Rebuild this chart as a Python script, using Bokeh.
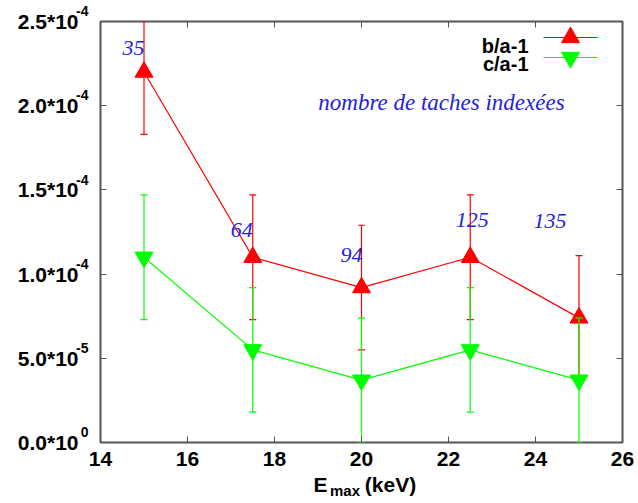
from bokeh.plotting import figure
from bokeh.models import Range1d, LinearAxis, Label, ColumnDataSource, FixedTicker
from bokeh.core.properties import value
from bokeh.embed import file_html
from bokeh.resources import INLINE

# ---- data ----
emax = [15, 17.5, 20, 22.5, 25]
b_a = [2.2e-4, 1.1e-4, 0.92e-4, 1.1e-4, 0.74e-4]
c_a = [1.1e-4, 0.55e-4, 0.37e-4, 0.55e-4, 0.37e-4]
b_err = [0.37e-4, 0.37e-4, 0.37e-4, 0.37e-4, 0.37e-4]
c_err = [0.37e-4, 0.37e-4, 0.37e-4, 0.37e-4, 0.37e-4]
n_spots = [35, 64, 94, 125, 135]
x_ticks = [14, 16, 18, 20, 22, 24, 26]
y_ticks = [0.0, 5e-5, 1e-4, 1.5e-4, 2e-4, 2.5e-4]
y_tick_mant = ["0.0*10", "5.0*10", "1.0*10", "1.5*10", "2.0*10", "2.5*10"]
y_tick_exp = ["0", "-5", "-4", "-4", "-4", "-4"]
series_names = ["b/a-1", "c/a-1"]
x_title = ["E", "max", "(keV)"]

# ---- layout (canvas pixels) ----
W, H = 638, 503
X0, X1, Y0, Y1 = 14.0, 26.0, 0.0, 2.5e-4
FL, FR, FT, FB = 100, 622, 21, 442   # frame edges


def px2x(px):
    return X0 + (px - FL) * (X1 - X0) / (FR - FL)


def py2y(py):
    return Y0 + (FB - py) * (Y1 - Y0) / (FB - FT)


SANS = "Liberation Sans"
SERIF = "Liberation Serif"
RED = "#ff0000"
GREEN = "#00ff00"
BLUE = "#2222dd"
FRAME = "#555555"
NBSP = "\u00a0"

p = figure(width=W, height=H, x_range=Range1d(X0, X1), y_range=Range1d(Y0, Y1),
           output_backend="svg", toolbar_location=None,
           min_border_left=FL, min_border_right=W - FR,
           min_border_top=FT, min_border_bottom=H - FB)
p.grid.visible = False
p.outline_line_color = FRAME
p.outline_line_width = 2
p.background_fill_color = "white"
p.border_fill_color = "white"


def plain(axis, size="0px", standoff=0):
    axis.axis_line_color = None
    axis.minor_tick_line_color = None
    axis.major_tick_out = 0
    axis.major_label_text_font = SANS
    axis.major_label_text_font_style = "bold"
    axis.major_label_text_font_size = size
    axis.major_label_text_color = "black"
    axis.major_label_standoff = standoff


# bottom axis: ticks inside + tick labels
xa = p.xaxis[0]
xa.ticker = x_ticks
plain(xa, "21px", 9)
xa.major_tick_in = 6
xa.major_tick_line_color = FRAME

# left inner axis: ticks inside + superscript exponents (raised by a blank 2nd line)
ya = p.yaxis[0]
ya.ticker = y_ticks
plain(ya, "14px", 12)
ya.major_tick_in = 6
ya.major_tick_line_color = FRAME
ya.major_label_text_line_height = 1.3
ya.major_label_overrides = {t: e + "\n" + NBSP for t, e in zip(y_ticks, y_tick_exp)}

# left outer axis: mantissas
ym = LinearAxis(ticker=y_ticks)
plain(ym, "21px", -5)
ym.major_tick_in = 0
ym.major_tick_line_color = None
ym.major_label_overrides = {t: m for t, m in zip(y_ticks, y_tick_mant)}
p.add_layout(ym, "left")

# mirrored ticks (top / right)
top = LinearAxis(ticker=x_ticks)
plain(top)
top.major_tick_in = 6
top.major_tick_line_color = FRAME
p.add_layout(top, "above")
right = LinearAxis(ticker=y_ticks)
plain(right)
right.major_tick_in = 6
right.major_tick_line_color = FRAME
p.add_layout(right, "right")

# x axis title  E_max (keV): big parts, then the smaller subscript
tx_E, tx_max, tx_kev = px2x(320), px2x(344.5), px2x(390)
xt = LinearAxis(ticker=FixedTicker(ticks=[tx_E, tx_kev]))
plain(xt, "21px", 4)
xt.major_tick_in = 0
xt.major_tick_line_color = None
xt.major_label_overrides = {tx_E: x_title[0], tx_kev: x_title[2]}
p.add_layout(xt, "below")
xs = LinearAxis(ticker=FixedTicker(ticks=[tx_max]))
plain(xs, "15px", -17)
xs.major_tick_in = 0
xs.major_tick_line_color = None
xs.major_label_overrides = {tx_max: x_title[1]}
p.add_layout(xs, "below")


def draw_series(yv, err, color, marker):
    lo = [v - e for v, e in zip(yv, err)]
    hi = [v + e for v, e in zip(yv, err)]
    p.line(emax, yv, line_color=color, line_width=1.2)
    p.segment(x0=emax, y0=lo, x1=emax, y1=hi, line_color=color, line_width=1.2)
    p.scatter(emax, lo, marker="dash", size=7, line_color=color, line_width=1.2)
    p.scatter(emax, hi, marker="dash", size=7, line_color=color, line_width=1.2)
    p.scatter(emax, yv, marker=marker, size=18, fill_color=color, line_color=color)


draw_series(b_a, b_err, RED, "triangle")
draw_series(c_a, c_err, GREEN, "inverted_triangle")

# number of indexed spots labels
src = ColumnDataSource(dict(x=emax, y=b_a, text=[str(n) for n in n_spots],
                            dx=[-10.5, -11, -10, 2, -29], dy=[-24, -27, -33, -37, -97]))
p.text(x="x", y="y", text="text", x_offset="dx", y_offset="dy", source=src,
       text_align="center", text_baseline="middle", text_font=value(SERIF),
       text_font_style="italic", text_font_size="22px", text_color=BLUE)

p.add_layout(Label(x=px2x(441), y=py2y(102), text="nombre de taches index\u00e9es",
                   text_align="center", text_baseline="middle", text_font=SERIF,
                   text_font_style="italic", text_font_size="23px", text_color=BLUE))

# legend (label left of sample)
for name, color, marker, ly, lb in [(series_names[0], RED, "triangle", 37, 45),
                                    (series_names[1], GREEN, "inverted_triangle", 57, 63)]:
    p.add_layout(Label(x=px2x(528), y=py2y(lb), text=name, text_align="right",
                       text_baseline="alphabetic", text_font=SANS, text_font_style="bold",
                       text_font_size="20px", text_color="black"))
    p.segment(x0=[px2x(543)], y0=[py2y(ly)], x1=[px2x(597)], y1=[py2y(ly)],
              line_color=color, line_width=1.2)
    p.scatter([px2x(570)], [py2y(ly)], marker=marker, size=18, fill_color=color,
              line_color=color)

open("out.html", "w").write(file_html(p, INLINE))
